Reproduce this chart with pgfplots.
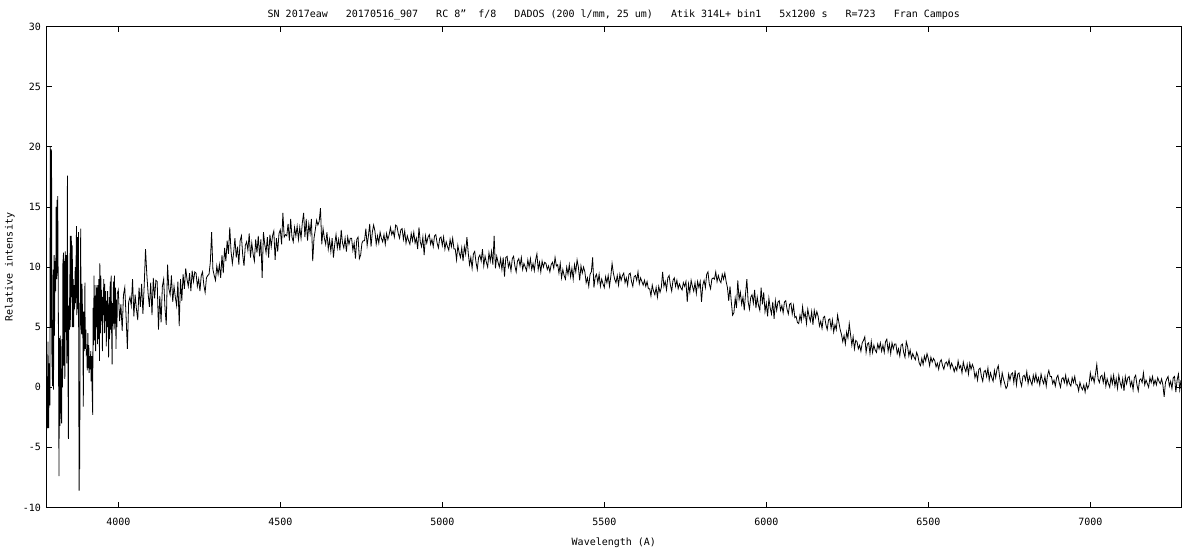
\documentclass[border=0pt]{standalone}
\usepackage{fontspec}
\setmainfont{DejaVu Sans Mono}
\usepackage{pgfplots}
\pgfplotsset{compat=1.18}

\begin{document}
\begin{tikzpicture}[font=\fontsize{10bp}{12bp}\selectfont]
    % canvas = 1200 x 550, axis box starts at (0,0)
    \fill[white] (-46.7bp,-42.5bp) rectangle (1153.3bp,507.5bp);
    \useasboundingbox (-46.7bp,-42.5bp) rectangle (1153.3bp,507.5bp);
    \begin{axis}[
        at={(0,0)}, anchor=south west,
        scale only axis,
        width=1134.3bp,
        height=480.8bp,
        xmin=3779, xmax=7280,
        ymin=-10, ymax=30,
        xtick={4000,4500,5000,5500,6000,6500,7000},
        xticklabels={4000,4500,5000,5500,6000,6500,7000},
        ytick={-10,-5,0,5,10,15,20,25,30},
        yticklabels={-10,-5,0,5,10,15,20,25,30},
        tick align=inside,
        major tick length=5bp,
        tick style={black, line width=0.8bp},
        axis line style={black, line width=0.9bp},
        xticklabel style={anchor=north, inner sep=0pt, yshift=-10.5bp},
        yticklabel style={anchor=east, inner sep=0pt, xshift=-5.5bp},
        title={SN 2017eaw~~~20170516\_907~~~RC 8"~~f/8~~~DADOS (200 l/mm, 25 um)~~~Atik 314L+ bin1~~~5x1200 s~~~R=723~~~Fran Campos},
        title style={at={(axis description cs:0.5,1)}, anchor=center, yshift=5.7bp, inner sep=0pt},
        xlabel={Wavelength (A)},
        xlabel style={at={(axis description cs:0.5,0)}, anchor=center, yshift=-35.5bp, inner sep=0pt},
        ylabel={Relative intensity},
        ylabel style={at={(axis description cs:-0.0324,0.5)}, anchor=center, inner sep=0pt},
    ]
        % SN 2017eaw spectrum
        \addplot[black, line width=0.8bp, mark=none] coordinates {
(3779,-3.5)(3780,0.9)(3781,-3.4)(3783,3.8)(3785,-3.4)(3787,2.0)(3789,-1.5)(3790,20.0)(3791,9.0)(3792,5.0)
(3793,19.8)(3794,19.5)(3795,2.8)(3797,0.1)(3799,9.8)(3800,-0.2)(3802,11.0)(3803,4.3)(3805,10.5)(3807,8.0)
(3808,15.0)(3810,9.0)(3811,15.6)(3812,9.5)(3813,15.9)(3815,6.0)(3817,-7.4)(3818,4.1)(3820,-3.2)(3821,4.3)
(3823,-1.8)(3825,-3.0)(3826,4.0)(3828,0.0)(3829,10.3)(3831,11.2)(3832,1.8)(3833,10.5)(3835,0.7)(3836,11.3)
(3838,4.6)(3839,11.0)(3841,2.0)(3843,17.6)(3844,4.5)(3846,-4.3)(3847,6.8)(3849,4.8)(3850,8.0)(3852,12.6)
(3853,5.0)(3855,12.6)(3856,7.5)(3858,11.8)(3859,5.0)(3861,9.0)(3862,5.0)(3864,8.5)(3865,6.5)(3867,10.0)
(3868,7.0)(3870,11.2)(3871,13.4)(3872,6.0)(3874,12.5)(3875,6.5)(3877,12.9)(3878,0.0)(3879,-8.6)(3880,0.5)
(3881,-6.8)(3882,6.2)(3884,13.2)(3885,5.3)(3887,4.4)(3888,8.6)(3890,5.4)(3891,3.6)(3892,-1.6)(3893,6.3)
(3895,3.0)(3897,8.7)(3898,3.2)(3900,4.8)(3901,2.8)(3903,3.0)(3904,1.4)(3906,4.5)(3907,1.6)(3909,3.5)
(3910,1.2)(3912,2.6)(3913,1.5)(3915,3.0)(3916,0.5)(3918,2.6)(3919,0.0)(3921,-2.3)(3922,6.6)(3924,3.5)
(3925,9.3)(3927,3.9)(3928,7.6)(3930,3.0)(3931,8.5)(3933,5.0)(3934,8.3)(3936,3.6)(3937,8.5)(3939,4.0)
(3940,9.0)(3942,2.2)(3943,10.3)(3945,4.5)(3946,9.3)(3948,5.5)(3949,8.1)(3951,3.0)(3952,7.5)(3954,6.0)
(3955,9.0)(3957,4.5)(3958,8.6)(3960,5.5)(3961,8.0)(3963,3.4)(3964,7.2)(3966,5.0)(3967,8.0)(3969,5.3)
(3970,2.5)(3972,7.5)(3973,4.0)(3975,8.8)(3976,4.8)(3978,9.3)(3979,5.3)(3981,1.9)(3982,7.0)(3984,5.3)
(3985,8.8)(3987,4.8)(3988,9.3)(3990,5.3)(3991,8.3)(3993,3.2)(3994,7.3)(3996,5.0)(3997,7.8)
(4000,8.1)(4004,5.5)(4008,6.9)(4012,4.7)(4016,7.7)(4020,8.3)(4024,5.9)(4028,3.2)(4032,7.1)(4036,7.5)
(4040,6.8)(4044,9.0)(4048,5.9)(4052,7.7)(4056,6.5)(4060,5.6)(4064,8.3)(4068,6.7)(4072,8.6)(4076,6.1)
(4080,8.5)(4084,11.5)(4088,9.4)(4092,7.8)(4096,6.7)(4100,8.7)(4104,6.0)(4108,9.1)(4112,7.4)(4116,8.9)
(4120,8.8)(4124,4.8)(4128,7.6)(4132,5.4)(4136,8.4)(4140,9.0)(4144,6.6)(4148,5.2)(4152,10.2)(4156,8.2)
(4160,7.7)(4164,9.3)(4168,7.1)(4172,8.4)(4176,7.5)(4180,6.8)(4184,8.8)(4188,5.1)(4192,9.0)(4196,7.2)
(4200,9.4)(4204,8.2)(4208,9.9)(4212,9.0)(4216,8.4)(4220,9.5)(4224,8.0)(4228,9.7)(4232,8.8)(4236,9.6)
(4240,9.5)(4244,8.4)(4248,9.0)(4252,8.0)(4256,9.3)(4260,9.6)(4264,8.5)(4268,7.9)(4272,9.1)(4276,9.3)
(4280,9.4)(4284,10.4)(4288,12.9)(4292,9.8)(4296,9.3)(4300,8.9)(4304,10.1)(4308,9.4)(4312,10.2)(4316,9.1)
(4320,11.0)(4324,9.5)(4328,11.6)(4332,10.5)(4336,12.2)(4340,11.1)(4344,13.3)(4348,11.3)(4352,10.3)(4356,11.2)
(4360,12.4)(4364,10.8)(4368,11.7)(4372,10.2)(4376,12.2)(4380,12.6)(4384,11.0)(4388,10.1)(4392,11.8)(4396,12.1)
(4400,11.4)(4404,12.8)(4408,10.8)(4412,12.0)(4416,11.1)(4420,10.5)(4424,12.3)(4428,11.2)(4432,12.6)(4436,10.9)
(4440,12.3)(4444,9.1)(4448,12.9)(4452,11.9)(4456,11.2)(4460,12.5)(4464,10.8)(4468,12.7)(4472,11.7)(4476,12.6)
(4480,13.0)(4484,10.6)(4488,12.4)(4492,11.3)(4496,12.8)(4500,13.1)(4504,11.9)(4508,14.5)(4512,12.5)(4516,12.7)
(4520,12.6)(4524,13.6)(4528,12.2)(4532,14.0)(4536,12.5)(4540,12.1)(4544,13.3)(4548,12.6)(4552,13.4)(4556,12.3)
(4560,13.3)(4564,12.4)(4568,13.7)(4572,14.5)(4576,12.5)(4580,14.0)(4584,12.2)(4588,13.6)(4592,12.8)(4596,14.0)
(4600,10.5)(4604,12.4)(4608,13.1)(4612,13.9)(4616,13.5)(4620,13.8)(4624,14.9)(4628,11.9)(4632,13.2)(4636,12.4)
(4640,11.9)(4644,12.9)(4648,11.5)(4652,12.3)(4656,11.3)(4660,12.4)(4664,10.8)(4668,11.9)(4672,12.7)(4676,11.6)
(4680,12.3)(4684,11.4)(4688,13.1)(4692,12.0)(4696,11.6)(4700,12.4)(4704,11.3)(4708,12.5)(4712,11.9)(4716,12.4)
(4720,12.4)(4724,11.4)(4728,12.0)(4732,10.7)(4736,12.3)(4740,12.5)(4744,10.7)(4748,11.0)(4752,12.0)(4756,12.2)
(4760,12.2)(4764,13.2)(4768,11.8)(4772,12.6)(4776,13.6)(4780,11.7)(4784,12.9)(4788,13.5)(4792,13.0)(4796,11.9)
(4800,12.6)(4804,12.0)(4808,12.9)(4812,12.4)(4816,12.1)(4820,12.7)(4824,11.9)(4828,12.8)(4832,12.3)(4836,12.7)
(4840,13.3)(4844,12.7)(4848,13.0)(4852,12.5)(4856,13.5)(4860,13.4)(4864,12.8)(4868,12.4)(4872,13.1)(4876,13.2)
(4880,12.3)(4884,13.0)(4888,12.0)(4892,12.6)(4896,12.2)(4900,11.9)(4904,12.8)(4908,12.2)(4912,12.9)(4916,12.0)
(4920,12.4)(4924,11.5)(4928,13.3)(4932,12.1)(4936,11.7)(4940,12.5)(4944,11.0)(4948,12.6)(4952,12.0)(4956,12.5)
(4960,12.7)(4964,11.9)(4968,12.3)(4972,11.7)(4976,12.6)(4980,12.7)(4984,12.0)(4988,11.6)(4992,12.4)(4996,12.5)
(5000,11.8)(5004,12.5)(5008,11.5)(5012,12.1)(5016,11.7)(5020,11.4)(5024,12.3)(5028,11.7)(5032,12.4)(5036,11.5)
(5040,11.5)(5044,10.6)(5048,11.8)(5052,11.2)(5056,10.8)(5060,11.6)(5064,10.5)(5068,11.7)(5072,11.1)(5076,12.5)
(5080,11.2)(5084,10.2)(5088,10.8)(5092,9.9)(5096,11.1)(5100,11.3)(5104,10.4)(5108,9.8)(5112,10.8)(5116,11.0)
(5120,10.5)(5124,11.5)(5128,10.1)(5132,10.9)(5136,10.4)(5140,10.0)(5144,11.2)(5148,10.5)(5152,11.3)(5156,10.2)
(5160,12.6)(5164,9.9)(5168,10.9)(5172,10.4)(5176,10.0)(5180,10.7)(5184,9.8)(5188,10.8)(5192,9.2)(5196,10.8)
(5200,10.9)(5204,10.0)(5208,10.4)(5212,9.7)(5216,10.7)(5220,10.9)(5224,10.1)(5228,9.6)(5232,10.5)(5236,10.7)
(5240,10.1)(5244,10.8)(5248,9.8)(5252,10.3)(5256,10.0)(5260,9.7)(5264,10.6)(5268,10.0)(5272,10.7)(5276,9.8)
(5280,10.3)(5284,9.7)(5288,10.6)(5292,11.1)(5296,9.8)(5300,10.4)(5304,9.6)(5308,10.5)(5312,10.0)(5316,10.4)
(5320,10.3)(5324,9.8)(5328,10.1)(5332,9.6)(5336,10.2)(5340,10.4)(5344,9.9)(5348,10.8)(5352,10.1)(5356,10.2)
(5360,9.5)(5364,10.3)(5368,9.1)(5372,9.8)(5376,9.3)(5380,9.0)(5384,10.0)(5388,9.4)(5392,10.2)(5396,9.2)
(5400,9.9)(5404,9.0)(5408,10.2)(5412,9.6)(5416,10.6)(5420,10.0)(5424,8.9)(5428,10.1)(5432,9.5)(5436,10.0)
(5440,9.6)(5444,8.7)(5448,9.1)(5452,8.4)(5456,9.4)(5460,9.6)(5464,10.8)(5468,8.3)(5472,9.2)(5476,9.4)
(5480,8.7)(5484,9.4)(5488,8.4)(5492,9.0)(5496,8.6)(5500,8.3)(5504,9.2)(5508,8.7)(5512,9.3)(5516,8.4)
(5520,9.2)(5524,10.3)(5528,9.5)(5532,9.0)(5536,8.7)(5540,9.3)(5544,8.5)(5548,9.4)(5552,8.9)(5556,9.3)
(5560,9.5)(5564,8.7)(5568,9.1)(5572,8.5)(5576,9.4)(5580,9.5)(5584,8.8)(5588,8.4)(5592,9.2)(5596,9.3)
(5600,8.9)(5604,9.6)(5608,8.6)(5612,9.1)(5616,8.8)(5620,8.5)(5624,8.9)(5628,8.4)(5632,8.8)(5636,8.2)
(5640,8.2)(5644,7.6)(5648,8.5)(5652,8.0)(5656,7.7)(5660,8.3)(5664,7.5)(5668,8.4)(5672,7.9)(5676,8.3)
(5680,9.6)(5684,8.4)(5688,8.8)(5692,8.1)(5696,9.1)(5700,9.3)(5704,8.5)(5708,8.0)(5712,8.9)(5716,9.1)
(5720,8.4)(5724,8.9)(5728,8.2)(5732,8.6)(5736,8.3)(5740,8.1)(5744,8.7)(5748,8.4)(5752,8.8)(5756,7.1)
(5760,8.6)(5764,7.9)(5768,8.9)(5772,8.4)(5776,8.0)(5780,8.7)(5784,7.8)(5788,8.8)(5792,8.3)(5796,8.8)
(5800,7.1)(5804,8.5)(5808,8.9)(5812,8.3)(5816,9.4)(5820,9.6)(5824,8.6)(5828,8.2)(5832,9.0)(5836,9.1)
(5840,9.0)(5844,9.6)(5848,8.8)(5852,9.3)(5856,8.9)(5860,8.7)(5864,9.4)(5868,9.0)(5872,9.5)(5876,8.8)
(5880,8.3)(5884,7.2)(5888,8.4)(5892,7.1)(5896,6.0)(5900,6.2)(5904,7.4)(5908,6.6)(5912,8.9)(5916,7.3)
(5920,7.9)(5924,6.9)(5928,7.5)(5932,6.4)(5936,7.8)(5940,9.0)(5944,7.1)(5948,6.5)(5952,7.5)(5956,7.7)
(5960,7.0)(5964,8.1)(5968,6.6)(5972,7.5)(5976,6.8)(5980,6.4)(5984,8.3)(5988,6.9)(5992,7.9)(5996,6.3)
(6000,7.0)(6004,5.9)(6008,7.4)(6012,6.6)(6016,6.1)(6020,7.1)(6024,5.7)(6028,7.2)(6032,6.4)(6036,7.1)
(6040,7.2)(6044,6.4)(6048,6.8)(6052,6.2)(6056,7.1)(6060,7.2)(6064,6.5)(6068,6.1)(6072,6.9)(6076,7.0)
(6080,6.1)(6084,6.8)(6088,5.8)(6092,5.9)(6096,5.4)(6100,5.3)(6104,6.0)(6108,5.5)(6112,6.7)(6116,5.8)
(6120,6.2)(6124,5.3)(6128,6.5)(6132,5.9)(6136,5.5)(6140,6.3)(6144,5.2)(6148,6.4)(6152,5.8)(6156,6.3)
(6160,5.9)(6164,5.1)(6168,5.5)(6172,4.9)(6176,5.8)(6180,5.9)(6184,5.2)(6188,4.8)(6192,5.6)(6196,5.7)
(6200,4.9)(6204,5.6)(6208,4.6)(6212,5.2)(6216,4.8)(6220,6.0)(6224,5.4)(6228,4.8)(6232,4.4)(6236,3.8)
(6240,4.3)(6244,3.6)(6248,4.6)(6252,4.1)(6256,5.3)(6260,4.4)(6264,3.5)(6268,4.2)(6272,3.2)(6276,3.9)
(6280,3.8)(6284,3.2)(6288,3.5)(6292,3.0)(6296,3.7)(6300,3.9)(6304,4.2)(6308,2.9)(6312,3.6)(6316,3.7)
(6320,2.8)(6324,3.8)(6328,2.9)(6332,3.5)(6336,3.1)(6340,2.9)(6344,3.6)(6348,3.2)(6352,3.7)(6356,3.0)
(6360,3.5)(6364,2.9)(6368,3.8)(6372,4.0)(6376,3.0)(6380,3.6)(6384,2.8)(6388,3.7)(6392,3.2)(6396,3.6)
(6400,3.6)(6404,2.8)(6408,3.2)(6412,2.6)(6416,3.5)(6420,3.6)(6424,2.9)(6428,2.5)(6432,3.8)(6436,3.4)
(6440,2.6)(6444,3.1)(6448,2.4)(6452,2.8)(6456,2.5)(6460,2.3)(6464,2.9)(6468,2.6)(6472,2.0)(6476,1.8)
(6480,2.4)(6484,1.9)(6488,2.6)(6492,2.2)(6496,2.8)(6500,2.4)(6504,1.8)(6508,2.5)(6512,2.1)(6516,2.4)
(6520,2.2)(6524,1.7)(6528,2.0)(6532,1.5)(6536,2.1)(6540,2.3)(6544,1.8)(6548,1.5)(6552,2.0)(6556,2.1)
(6560,1.8)(6564,2.3)(6568,1.6)(6572,2.0)(6576,1.7)(6580,1.3)(6584,1.7)(6588,1.4)(6592,2.2)(6596,1.6)
(6600,1.8)(6604,1.2)(6608,2.1)(6612,1.6)(6616,1.3)(6620,1.9)(6624,1.1)(6628,2.0)(6632,1.5)(6636,1.9)
(6640,1.6)(6644,0.8)(6648,1.2)(6652,0.6)(6656,1.5)(6660,1.6)(6664,0.9)(6668,0.5)(6672,1.3)(6676,1.4)
(6680,0.9)(6684,1.6)(6688,0.6)(6692,1.2)(6696,0.8)(6700,0.5)(6704,1.4)(6708,0.8)(6712,1.5)(6716,1.8)
(6720,0.9)(6724,0.2)(6728,1.2)(6732,0.7)(6736,0.3)(6740,-0.1)(6744,0.1)(6748,1.1)(6752,0.6)(6756,1.1)
(6760,1.2)(6764,0.4)(6768,1.4)(6772,0.2)(6776,1.1)(6780,1.2)(6784,0.5)(6788,0.1)(6792,0.9)(6796,1.0)
(6800,0.6)(6804,1.3)(6808,0.3)(6812,0.9)(6816,0.5)(6820,0.2)(6824,1.0)(6828,0.5)(6832,1.1)(6836,0.4)
(6840,0.8)(6844,0.2)(6848,1.1)(6852,0.6)(6856,0.3)(6860,0.9)(6864,0.1)(6868,1.0)(6872,1.4)(6876,0.9)
(6880,0.9)(6884,0.3)(6888,0.6)(6892,0.1)(6896,0.8)(6900,1.0)(6904,0.4)(6908,0.0)(6912,0.7)(6916,0.8)
(6920,0.4)(6924,1.0)(6928,0.2)(6932,0.7)(6936,0.3)(6940,0.1)(6944,0.8)(6948,0.4)(6952,0.9)(6956,0.2)
(6960,0.2)(6964,-0.3)(6968,0.4)(6972,0.0)(6976,-0.2)(6980,0.2)(6984,-0.4)(6988,0.3)(6992,-0.1)(6996,0.2)
(7000,1.2)(7004,0.6)(7008,0.9)(7012,0.4)(7016,1.1)(7020,1.9)(7024,0.7)(7028,0.4)(7032,0.9)(7036,1.0)
(7040,0.4)(7044,1.1)(7048,0.1)(7052,0.7)(7056,0.3)(7060,0.0)(7064,0.9)(7068,0.3)(7072,1.0)(7076,0.1)
(7080,0.7)(7084,-0.1)(7088,1.0)(7092,0.4)(7096,0.0)(7100,0.7)(7104,-0.3)(7108,0.9)(7112,0.3)(7116,0.8)
(7120,0.9)(7124,0.1)(7128,0.5)(7132,-0.2)(7136,0.8)(7140,1.0)(7144,0.2)(7148,-0.3)(7152,0.6)(7156,0.7)
(7160,0.4)(7164,1.2)(7168,0.2)(7172,0.6)(7176,0.3)(7180,0.0)(7184,0.8)(7188,0.4)(7192,0.9)(7196,0.2)
(7200,0.6)(7204,0.2)(7208,0.8)(7212,0.5)(7216,0.3)(7220,0.7)(7224,0.2)(7228,-0.8)(7232,0.4)(7236,0.7)
(7240,0.9)(7244,0.1)(7248,0.5)(7252,-0.1)(7256,0.8)(7260,0.9)(7264,-0.4)(7268,0.6)(7272,1.1)(7276,-0.2)(7280,0.6)
        };
    \end{axis}
\end{tikzpicture}
\end{document}
